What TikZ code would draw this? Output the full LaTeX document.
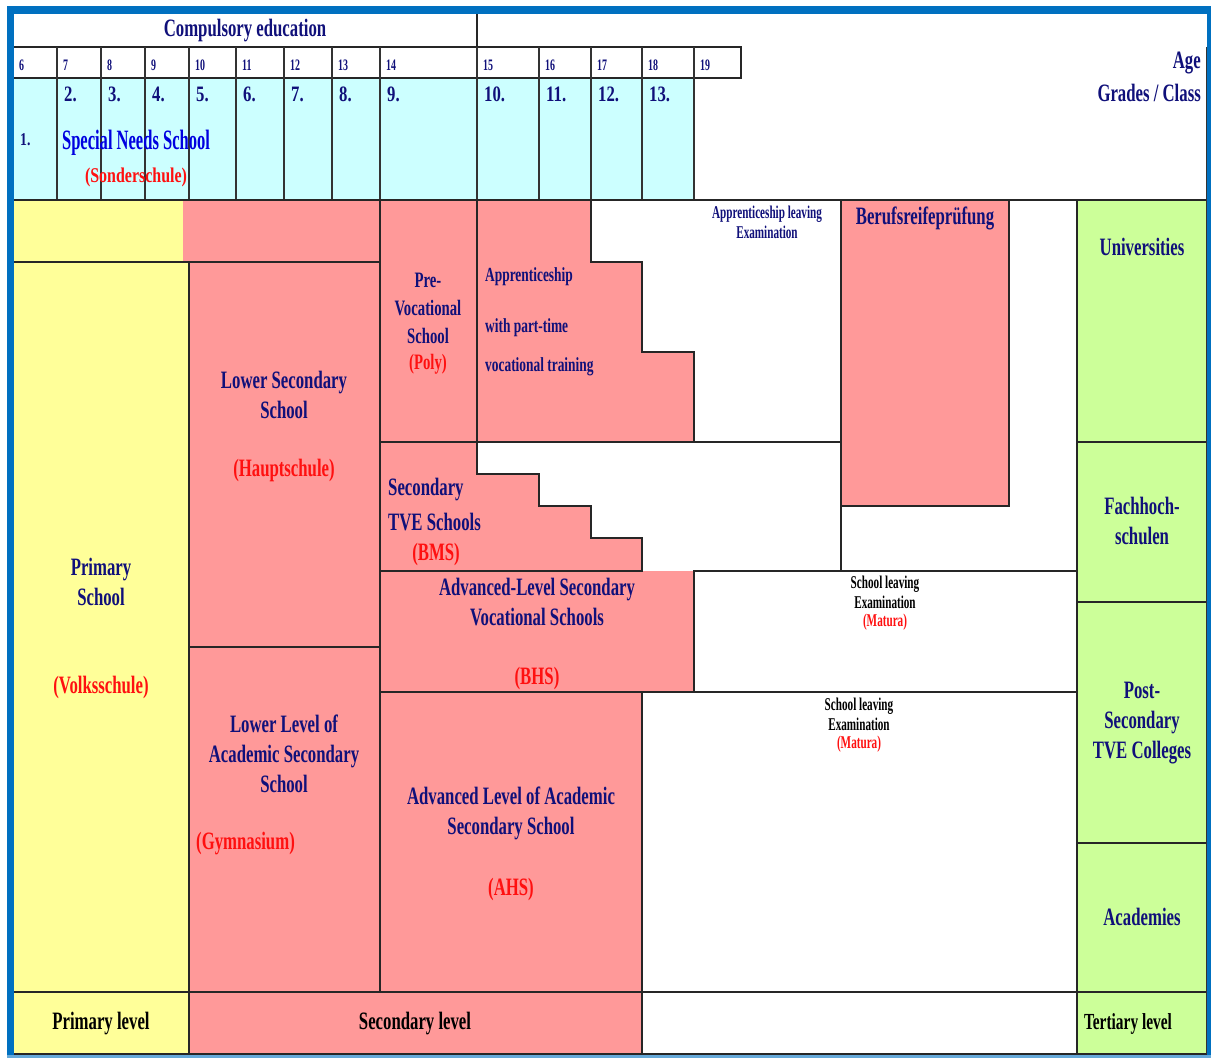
\documentclass[tikz,border=0pt]{standalone}
\usepackage{fontspec}
\setmainfont{Liberation Serif}[FakeStretch=0.76]
\newfontfamily\fmain{Liberation Serif}[FakeStretch=0.67]
\newfontfamily\fsmall{Liberation Serif}[FakeStretch=0.62]
\newfontfamily\fsns{Liberation Serif}[FakeStretch=0.59]
\definecolor{yel}{HTML}{FFFF99}
\definecolor{pnk}{HTML}{FF9999}
\definecolor{cyn}{HTML}{CCFFFF}
\definecolor{grn}{HTML}{CCFF99}
\definecolor{navy}{HTML}{10107A}
\definecolor{redt}{HTML}{FF1010}
\definecolor{sblue}{HTML}{0000E0}
\definecolor{bblue}{HTML}{0070C0}
\tikzset{
  ln/.style={line width=1.8pt, draw=black!85, line cap=rect},
  thin ln/.style={line width=1.1pt, draw=black!80},
  lab/.style={font=\fmain\bfseries\fontsize{25}{30}\selectfont, text=navy, align=center, inner sep=0pt},
  rlab/.style={font=\fmain\bfseries\fontsize{25}{30}\selectfont, text=redt, align=center, inner sep=0pt},
  slab/.style={font=\fsmall\bfseries\fontsize{18}{20}\selectfont, text=navy, align=center, inner sep=0pt},
  srlab/.style={font=\fsmall\bfseries\fontsize{18}{20}\selectfont, text=redt, align=center, inner sep=0pt},
  sblab/.style={font=\fsmall\bfseries\fontsize{18}{20}\selectfont, text=black, align=center, inner sep=0pt},
  agelab/.style={font=\fsmall\bfseries\fontsize{16}{18}\selectfont, text=navy, anchor=west, inner sep=0pt},
  grlab/.style={font=\bfseries\fontsize{22}{26}\selectfont, text=navy, anchor=west, inner sep=0pt},
  lvl/.style={font=\fmain\bfseries\fontsize{25}{30}\selectfont, text=black, inner sep=0pt},
}
\begin{document}
\begin{tikzpicture}[x=1pt,y=-1pt]
\useasboundingbox (0,0) rectangle (1211,1059);
% fills
\fill[white] (0,0) rectangle (1211,1059);
\fill[cyn] (14,78) rectangle (694,200);
\fill[yel] (14,200) rectangle (183,262);
\fill[pnk] (183,200) rectangle (380,262);
\fill[yel] (14,262) rectangle (189,992);
\fill[pnk] (189,262) rectangle (380,992);
\fill[pnk] (380,200) rectangle (477,442);
\fill[pnk] (477,200) -- (591,200) -- (591,262) -- (642,262) -- (642,352) -- (694,352) -- (694,442) -- (477,442) -- cycle;
\fill[pnk] (380,442) -- (477,442) -- (477,474) -- (539,474) -- (539,506) -- (591,506) -- (591,538) -- (642,538) -- (642,571) -- (380,571) -- cycle;
\fill[pnk] (380,571) rectangle (694,692);
\fill[pnk] (380,692) rectangle (642,992);
\fill[pnk] (841,200) rectangle (1009,506);
\fill[grn] (1077,200) rectangle (1207,1054);
\fill[yel] (14,992) rectangle (189,1054);
\fill[pnk] (189,992) rectangle (642,1054);
% header lines
\draw[ln] (477,14) -- (477,47);
\draw[ln] (14,47) -- (741,47) -- (741,78) -- (14,78);
\foreach \cx in {57,101,145,189,236,284,332,380,477,539,591,642,694}
  \draw[thin ln] (\cx,47) -- (\cx,200);
\draw[ln] (14,200) -- (1207,200);
% body lines
\draw[ln] (14,262) -- (380,262);
\draw[ln] (189,262) -- (189,1054);
\draw[ln] (380,200) -- (380,992);
\draw[ln] (189,647) -- (380,647);
\draw[ln] (477,200) -- (477,474);
\draw[ln] (591,200) -- (591,262) -- (642,262) -- (642,352) -- (694,352) -- (694,442);
\draw[ln] (380,442) -- (841,442);
\draw[ln] (841,200) -- (841,571);
\draw[ln] (477,474) -- (539,474) -- (539,506) -- (591,506) -- (591,538) -- (642,538) -- (642,571);
\draw[ln] (380,571) -- (642,571);
\draw[ln] (694,571) -- (1077,571);
\draw[ln] (694,571) -- (694,692);
\draw[ln] (380,692) -- (1077,692);
\draw[ln] (642,692) -- (642,1054);
\draw[ln] (841,506) -- (1009,506) -- (1009,200);
\draw[ln] (1077,200) -- (1077,1054);
\draw[ln] (1077,442) -- (1207,442);
\draw[ln] (1077,602) -- (1207,602);
\draw[ln] (1077,843) -- (1207,843);
\draw[ln] (14,992) -- (1207,992);
\draw[ln] (14,1054) -- (1207,1054);
\draw[thin ln] (1207,47) -- (1207,1054);
% blue frame
\fill[bblue] (7,6) rectangle (1211,14);
\fill[bblue] (7,6) rectangle (14,1058);
\fill[bblue] (1207,6) rectangle (1211,1058);
\fill[bblue!60] (7,1055) rectangle (1211,1058);
% header texts
\node[lab] (comp) at (245,31) {Compulsory education};
\foreach \n/\ax in {6/19,7/63,8/107,9/151,10/195,11/242,12/290,13/338,14/386,15/483,16/545,17/597,18/648,19/700}
  \node[agelab] (age\n) at (\ax,65) {\n};
\foreach \g/\gx in {2/64,3/108,4/152,5/196,6/243,7/291,8/339,9/387,10/484,11/546,12/598,13/649}
  \node[grlab] (gr\g) at (\gx,94) {\g.};
\node[agelab, font=\bfseries\fontsize{18}{20}\selectfont] (gr1) at (20,140) {1.};
\node[lab, text=sblue, font=\fsns\bfseries\fontsize{28}{30}\selectfont] (sns) at (136,143) {Special Needs School};
\node[rlab, font=\bfseries\fontsize{21}{24}\selectfont] (sonder) at (136,177) {(Sonderschule)};
\node[lab, anchor=east] (agehd) at (1201,63) {Age};
\node[lab, anchor=east] (grhd) at (1201,93) {Grades / Class};
% body texts
\node[lab] (prim) at (101,582) {Primary\\School};
\node[rlab] (volks) at (101,687) {(Volksschule)};
\node[lab] (hs) at (284,395) {Lower Secondary\\School};
\node[rlab] (hsr) at (284,470) {(Hauptschule)};
\node[lab] (gym) at (284,754) {Lower Level of\\Academic Secondary\\School};
\node[rlab, anchor=west] (gymr) at (196,844) {(Gymnasium)};
\node[lab, font=\fmain\bfseries\fontsize{22}{28}\selectfont] (poly) at (428,308) {Pre-\\Vocational\\School};
\node[rlab, font=\fmain\bfseries\fontsize{22}{28}\selectfont] (polyr) at (428,364) {(Poly)};
\node[lab, anchor=west, font=\fmain\bfseries\fontsize{20}{24}\selectfont] (app1) at (485,277) {Apprenticeship};
\node[lab, anchor=west, font=\fmain\bfseries\fontsize{20}{24}\selectfont] (app2) at (485,328) {with part-time};
\node[lab, anchor=west, font=\fmain\bfseries\fontsize{20}{24}\selectfont] (app3) at (485,367) {vocational training};
\node[slab] (applv) at (767,222) {Apprenticeship leaving\\Examination};
\node[lab] (brp) at (925,218) {Berufsreifeprüfung};
\node[lab, anchor=west] (bms1) at (388,490) {Secondary};
\node[lab, anchor=west] (bms2) at (388,522) {TVE Schools};
\node[rlab] (bmsr) at (436,554) {(BMS)};
\node[lab] (bhs) at (537,602) {Advanced-Level Secondary\\Vocational Schools};
\node[rlab] (bhsr) at (537,678) {(BHS)};
\node[sblab] (slx1) at (885,592) {School leaving\\Examination};
\node[srlab] (mat1) at (885,622) {(Matura)};
\node[lab] (ahs) at (511,813) {Advanced Level of Academic\\Secondary School};
\node[rlab] (ahsr) at (511,889) {(AHS)};
\node[sblab] (slx2) at (859,714) {School leaving\\Examination};
\node[srlab] (mat2) at (859,744) {(Matura)};
\node[lab] (uni) at (1142,247) {Universities};
\node[lab] (fh) at (1142,521) {Fachhoch-\\schulen};
\node[lab] (pstve) at (1142,723) {Post-\\Secondary\\TVE Colleges};
\node[lab] (acad) at (1142,917) {Academies};
\node[lvl] (plvl) at (101,1024) {Primary level};
\node[lvl] (slvl) at (415,1024) {Secondary level};
\node[lvl, font=\fmain\bfseries\fontsize{23}{28}\selectfont] (tlvl) at (1128,1024) {Tertiary level};
\end{tikzpicture}
\end{document}
